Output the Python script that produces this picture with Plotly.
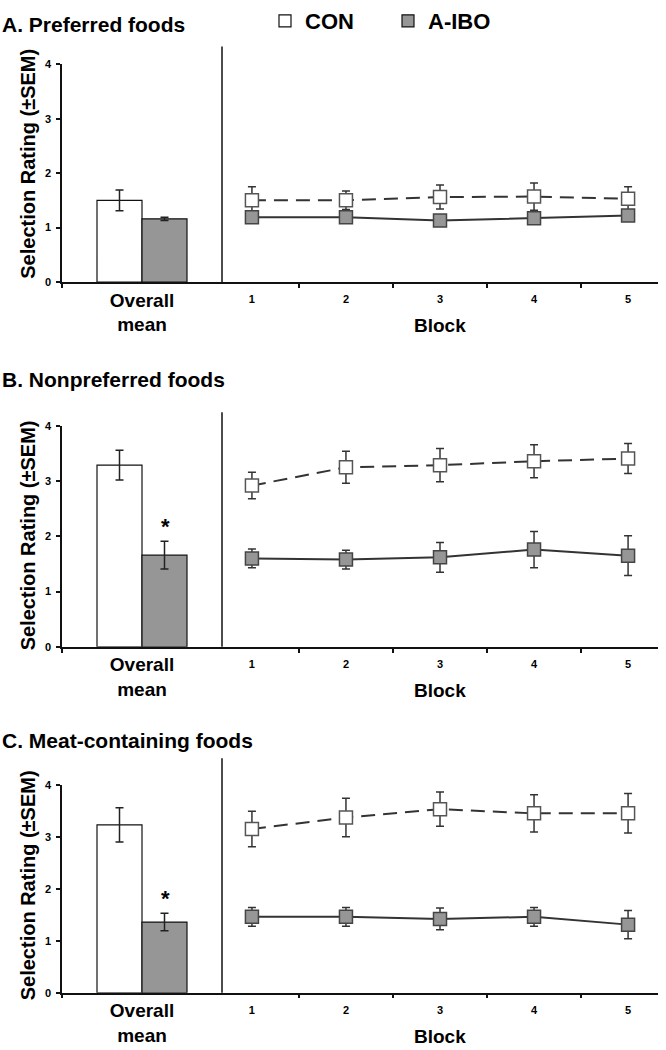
import plotly.graph_objects as go

# ---------------- data ----------------
blocks = ["1", "2", "3", "4", "5"]
overall_cat = ["Overall mean"]
panel_titles = ["A. Preferred foods", "B. Nonpreferred foods", "C. Meat-containing foods"]
show_star = [False, True, True]

con_overall = [1.50, 3.29, 3.23]
con_overall_sem = [0.19, 0.27, 0.33]
abo_overall = [1.16, 1.66, 1.36]
abo_overall_sem = [0.03, 0.25, 0.17]

con_blocks_A = [1.50, 1.50, 1.56, 1.57, 1.53]
con_sem_A = [0.25, 0.17, 0.22, 0.25, 0.22]
abo_blocks_A = [1.19, 1.19, 1.13, 1.17, 1.22]
abo_sem_A = [0.05, 0.05, 0.06, 0.08, 0.06]

con_blocks_B = [2.92, 3.25, 3.29, 3.36, 3.41]
con_sem_B = [0.24, 0.29, 0.30, 0.30, 0.27]
abo_blocks_B = [1.60, 1.58, 1.62, 1.76, 1.65]
abo_sem_B = [0.17, 0.17, 0.27, 0.33, 0.36]

con_blocks_C = [3.15, 3.37, 3.53, 3.45, 3.45]
con_sem_C = [0.34, 0.37, 0.33, 0.36, 0.38]
abo_blocks_C = [1.46, 1.46, 1.42, 1.46, 1.31]
abo_sem_C = [0.18, 0.18, 0.21, 0.18, 0.27]

con_blocks = [con_blocks_A, con_blocks_B, con_blocks_C]
con_sems = [con_sem_A, con_sem_B, con_sem_C]
abo_blocks = [abo_blocks_A, abo_blocks_B, abo_blocks_C]
abo_sems = [abo_sem_A, abo_sem_B, abo_sem_C]

# ---------------- layout constants (pixels) ----------------
W, H = 666, 1050
FONT = "Liberation Sans, Arial, sans-serif"
X_LEFT, X_DIV, X_RIGHT = 62, 222, 658
PANEL_Y = [(56, 277), (423, 647), (787, 998)]   # (top=4, bottom=0)
DIV_TOP = [38, 409, 760]
TITLE_Y = [16, 376, 742]
YTITLE_Y = [157, 534, 889]
STAR_X = 165

def fx(px):
    return px / W

def fy(py):
    return 1 - py / H

fig = go.Figure()
layout = dict(
    width=W, height=H,
    margin=dict(l=0, r=0, t=0, b=0),
    paper_bgcolor="white", plot_bgcolor="white",
    barmode="group", bargap=0.4375, bargroupgap=0,
    font=dict(family=FONT, color="black"),
    showlegend=True,
)
annotations = []
shapes = []

axis_line = dict(showline=True, linecolor="#111", linewidth=1.5, showgrid=False,
                 zeroline=False, ticks="outside", ticklen=4, tickcolor="#111",
                 tickwidth=1.5)

for p in range(3):
    xl = f"x{2*p+1}" if p > 0 else "x"
    xr = f"x{2*p+2}"
    yy = f"y{p+1}" if p > 0 else "y"
    xl_key = "xaxis" if p == 0 else f"xaxis{2*p+1}"
    xr_key = f"xaxis{2*p+2}"
    y_key = "yaxis" if p == 0 else f"yaxis{p+1}"
    top, bot = PANEL_Y[p]

    # bars
    fig.add_trace(go.Bar(
        x=overall_cat, y=[con_overall[p]], name="CON", xaxis=xl, yaxis=yy,
        marker=dict(color="white", line=dict(color="#111", width=1.2)),
        error_y=dict(type="data", array=[con_overall_sem[p]], color="#222",
                     thickness=1.5, width=4),
        showlegend=(p == 0), legendgroup="CON"))
    fig.add_trace(go.Bar(
        x=overall_cat, y=[abo_overall[p]], name="A-IBO", xaxis=xl, yaxis=yy,
        marker=dict(color="#969696", line=dict(color="#111", width=1.2)),
        error_y=dict(type="data", array=[abo_overall_sem[p]], color="#222",
                     thickness=1.5, width=4),
        showlegend=(p == 0), legendgroup="A-IBO"))

    # lines
    fig.add_trace(go.Scatter(
        x=blocks, y=con_blocks[p], mode="lines+markers", xaxis=xr, yaxis=yy,
        line=dict(color="#333", width=2, dash="14px,8px"),
        marker=dict(symbol="square", size=13, color="white",
                    line=dict(color="#555", width=1.5)),
        error_y=dict(type="data", array=con_sems[p], color="#333",
                     thickness=1.5, width=4),
        showlegend=False))
    fig.add_trace(go.Scatter(
        x=blocks, y=abo_blocks[p], mode="lines+markers", xaxis=xr, yaxis=yy,
        line=dict(color="#333", width=2),
        marker=dict(symbol="square", size=13, color="#969696",
                    line=dict(color="#444", width=1.5)),
        error_y=dict(type="data", array=abo_sems[p], color="#333",
                     thickness=1.5, width=4),
        showlegend=False))

    ydom = [fy(bot), fy(top)]
    layout[xl_key] = dict(axis_line, domain=[fx(X_LEFT), fx(X_DIV)], anchor=yy,
                          type="category", tickson="boundaries",
                          tickvals=overall_cat, ticktext=["Overall<br>mean"],
                          tickfont=dict(size=19, weight="bold", family=FONT),
                          fixedrange=True)
    layout[xr_key] = dict(axis_line, domain=[fx(X_DIV), fx(X_RIGHT)], anchor=yy,
                          type="category", tickson="boundaries",
                          categoryorder="array", categoryarray=blocks,
                          tickfont=dict(size=11, weight="bold", family=FONT),
                          ticklabelstandoff=6)
    layout[y_key] = dict(axis_line, domain=ydom, anchor=xl, range=[0, 4],
                         tickvals=[0, 1, 2, 3, 4],
                         tickfont=dict(size=11, weight="bold", family=FONT),
                         ticklabelstandoff=3)

    # divider line
    shapes.append(dict(type="line", xref=f"{xr} domain", yref=f"{yy} domain",
                       x0=0, x1=0, y0=0, y1=(bot - DIV_TOP[p]) / (bot - top),
                       line=dict(color="#111", width=1.5)))

    # panel title
    annotations.append(dict(text=panel_titles[p], xref="paper", yref="paper",
                            x=fx(0), y=fy(TITLE_Y[p]), xanchor="left", yanchor="middle",
                            showarrow=False, font=dict(size=21, weight="bold", family=FONT)))
    # y title
    annotations.append(dict(text="Selection Rating (±SEM)", xref="paper", yref="paper",
                            x=fx(28), y=fy(YTITLE_Y[p]), xanchor="center", yanchor="middle",
                            textangle=-90, showarrow=False,
                            font=dict(size=20, weight="bold", family=FONT)))
    # Block title
    annotations.append(dict(text="Block", xref=f"{xr} domain", yref="paper",
                            x=0.5, y=fy(bot + 44), xanchor="center", yanchor="middle",
                            showarrow=False, font=dict(size=19, weight="bold", family=FONT)))
    # star
    if show_star[p]:
        annotations.append(dict(text="*", xref="paper", yref=yy,
                                x=fx(STAR_X), y=abo_overall[p] + abo_overall_sem[p],
                                xanchor="center", yanchor="bottom", showarrow=False,
                                font=dict(size=22, weight="bold", family=FONT)))

layout["annotations"] = annotations
layout["shapes"] = shapes
layout["legend"] = dict(orientation="h", x=fx(265), y=fy(12), xanchor="left",
                        yanchor="middle", font=dict(size=22, weight="bold", family=FONT),
                        entrywidth=78, entrywidthmode="pixels",
                        bgcolor="rgba(0,0,0,0)", borderwidth=0)
fig.update_layout(**layout)
fig.write_html("out.html",
               config={"displayModeBar": False},
               post_script="document.body.style.margin='0px';document.body.style.overflow='hidden';")
